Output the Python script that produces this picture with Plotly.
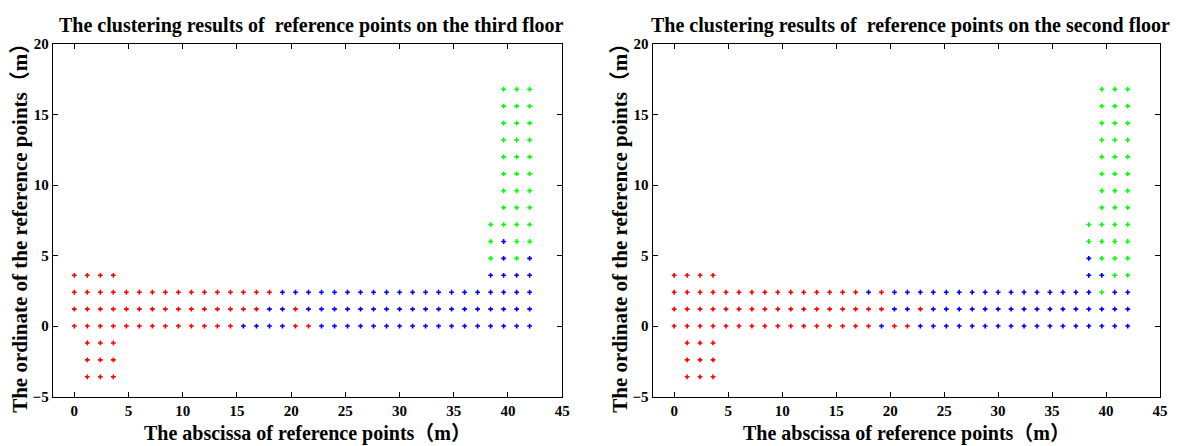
import plotly.graph_objects as go

# Reference point grid coordinates (m)
x_coords = [0.0, 1.2, 2.4, 3.6, 4.8, 6.0, 7.2, 8.4, 9.6, 10.8, 12.0, 13.2,
            14.4, 15.6, 16.8, 18.0, 19.2, 20.4, 21.6, 22.8, 24.0, 25.2, 26.4,
            27.6, 28.8, 30.0, 31.2, 32.4, 33.6, 34.8, 36.0, 37.2, 38.4, 39.6,
            40.8, 42.0]
y_coords = [16.8, 15.6, 14.4, 13.2, 12.0, 10.8, 9.6, 8.4, 7.2, 6.0, 4.8, 3.6,
            2.4, 1.2, 0.0, -1.2, -2.4, -3.6]

# Cluster label of each reference point, one string per row (top to bottom),
# one character per column: r / b / g = cluster, '.' = no point
third_floor_rows = [
    "................................." + "ggg",
    "................................." + "ggg",
    "................................." + "ggg",
    "................................." + "ggg",
    "................................." + "ggg",
    "................................." + "ggg",
    "................................." + "ggg",
    "................................." + "ggg",
    "................................" + "gggg",
    "................................" + "gbgg",
    "................................" + "gbgb",
    "rrrr" + "............................" + "bbbb",
    "r" * 16 + "b" * 20,
    "r" * 15 + "bb" + "r" + "b" * 18,
    "r" * 13 + "bbbb" + "rr" + "b" * 17,
    ".rrr" + "." * 32,
    ".rrr" + "." * 32,
    ".rrr" + "." * 32,
]

second_floor_rows = [
    "................................." + "ggg",
    "................................." + "ggg",
    "................................." + "ggg",
    "................................." + "ggg",
    "................................." + "ggg",
    "................................." + "ggg",
    "................................." + "ggg",
    "................................." + "ggg",
    "................................" + "gggg",
    "................................" + "gggg",
    "................................" + "bggg",
    "rrrr" + "............................" + "bbgg",
    "r" * 15 + "b" + "r" + "b" * 16 + "g" + "bb",
    "r" * 17 + "bb" + "r" + "b" * 16,
    "r" * 16 + "b" + "rr" + "b" * 17,
    ".rrr" + "." * 32,
    ".rrr" + "." * 32,
    ".rrr" + "." * 32,
]

cluster_colors = {"r": "#FF0000", "b": "#0000FF", "g": "#00FF00"}

titles = [
    "The clustering results of  reference points on the third floor",
    "The clustering results of  reference points on the second floor",
]
x_title = "The abscissa of reference points（m）"
y_title = "The ordinate of the reference points（m）"

FONT = "Liberation Serif, Times New Roman, Noto Sans CJK SC, serif"

fig = go.Figure()

x_domains = [[53 / 1184, 566 / 1184], [657 / 1184, 1168 / 1184]]
y_domain = [1 - 403 / 446, 1 - 37.5 / 446]


def cluster_points(rows, key):
    xs, ys = [], []
    for yv, row in zip(y_coords, rows):
        for xv, c in zip(x_coords, row):
            if c == key:
                xs.append(xv)
                ys.append(yv)
    return xs, ys


for i, rows in enumerate([third_floor_rows, second_floor_rows]):
    xa = "x" if i == 0 else "x2"
    ya = "y" if i == 0 else "y2"
    for key in ["r", "b", "g"]:
        xs, ys = cluster_points(rows, key)
        fig.add_trace(go.Scatter(
            x=xs, y=ys, mode="markers", xaxis=xa, yaxis=ya,
            marker=dict(symbol="cross", size=4, color=cluster_colors[key],
                        line=dict(width=0)),
            showlegend=False, hoverinfo="x+y",
        ))

axis_common = dict(
    showline=True, linecolor="black", linewidth=1, mirror="ticks",
    ticks="inside", ticklen=5, tickcolor="black", showgrid=False,
    zeroline=False,
    tickfont=dict(family=FONT, size=15, color="black", weight="bold"),
)

for i in range(2):
    sfx = "" if i == 0 else "2"
    fig.update_layout(**{
        "xaxis" + sfx: dict(axis_common, domain=x_domains[i], range=[-2, 45],
                            tickvals=[0, 5, 10, 15, 20, 25, 30, 35, 40, 45],
                            anchor="y" + sfx),
        "yaxis" + sfx: dict(axis_common, domain=y_domain, range=[-5, 20],
                            tickvals=[-5, 0, 5, 10, 15, 20],
                            anchor="x" + sfx),
    })

annotations = []
for i in range(2):
    cx = (x_domains[i][0] + x_domains[i][1]) / 2
    annotations.append(dict(
        text=titles[i], x=cx + 4 / 1184, y=1 - 18 / 446, xref="paper",
        yref="paper", xanchor="center", yanchor="middle", showarrow=False,
        font=dict(family=FONT, size=20, color="black", weight="bold")))
    annotations.append(dict(
        text=x_title, x=cx, y=0, xref="paper", yref="paper",
        xanchor="center", yanchor="bottom", yshift=-8, showarrow=False,
        borderpad=0,
        font=dict(family=FONT, size=20, color="black", weight="bold")))
    annotations.append(dict(
        text=y_title, x=(x_domains[i][0] * 1184 - 33) / 1184,
        y=1 - 223 / 446, xref="paper", yref="paper",
        xanchor="center", yanchor="middle", textangle=-90, showarrow=False,
        font=dict(family=FONT, size=21, color="black", weight="bold")))

fig.update_layout(
    width=1184, height=446,
    margin=dict(l=0, r=0, t=0, b=0),
    paper_bgcolor="white", plot_bgcolor="white",
    annotations=annotations,
)

fig.write_html("out.html")
